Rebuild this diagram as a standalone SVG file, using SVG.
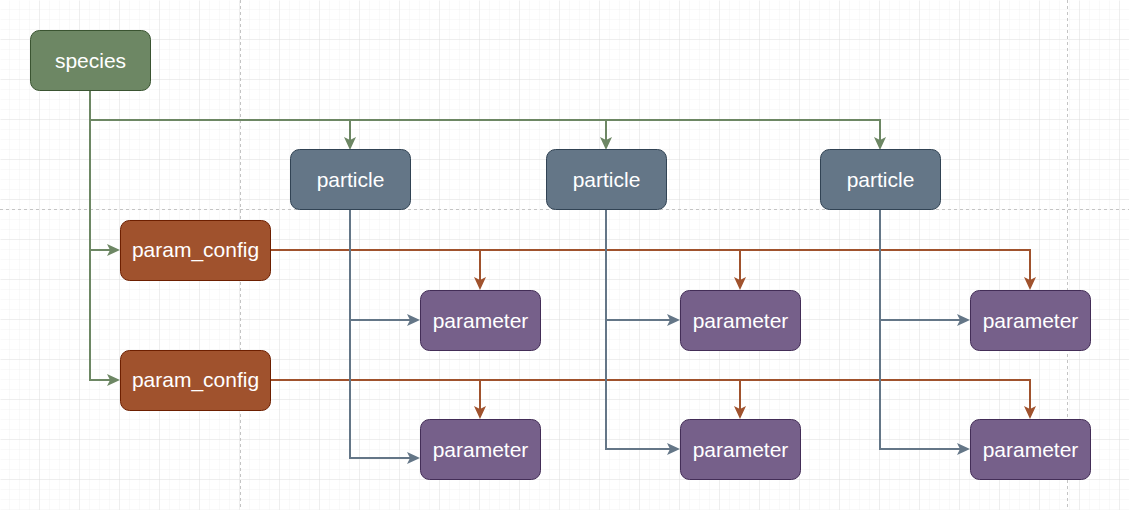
<svg xmlns="http://www.w3.org/2000/svg" width="1129" height="510" viewBox="0 0 1129 510">
<style>
.node rect{stroke-width:1}
.node text{font-family:"Liberation Sans",Arial,sans-serif;font-size:21px;fill:#ffffff;text-anchor:middle}
.sp rect{fill:#6d8764;stroke:#3a5431}
.pa rect{fill:#647687;stroke:#314354}
.pc rect{fill:#a0522d;stroke:#6d1f00}
.pm rect{fill:#76608a;stroke:#432d57}
.edge{fill:none;stroke-width:2}
.g{stroke:#6d8764;marker-end:url(#ag)}
.o{stroke:#a0522d;marker-end:url(#ao)}
.b{stroke:#647687;marker-end:url(#ab)}
.page{stroke:#c4c4c4;stroke-width:1;stroke-dasharray:3 3;fill:none}
</style>
<defs>
<pattern id="minor" width="10" height="10" patternUnits="userSpaceOnUse">
<path d="M10 0V10M0 10H10" fill="none" stroke="#f2f2f2" stroke-width="1"/>
</pattern>
<pattern id="major" width="40" height="40" patternUnits="userSpaceOnUse">
<path d="M40 0V40M0 40H40" fill="none" stroke="#e2e2e2" stroke-width="1"/>
</pattern>
<marker id="ag" markerUnits="userSpaceOnUse" viewBox="-4 -7 15 14" refX="0" refY="0" markerWidth="15" markerHeight="14" orient="auto">
<path d="M-3,-6L10,0L-3,6L0,0Z" fill="#6d8764"/>
</marker>
<marker id="ao" markerUnits="userSpaceOnUse" viewBox="-4 -7 15 14" refX="0" refY="0" markerWidth="15" markerHeight="14" orient="auto">
<path d="M-3,-6L10,0L-3,6L0,0Z" fill="#a0522d"/>
</marker>
<marker id="ab" markerUnits="userSpaceOnUse" viewBox="-4 -7 15 14" refX="0" refY="0" markerWidth="15" markerHeight="14" orient="auto">
<path d="M-3,-6L10,0L-3,6L0,0Z" fill="#647687"/>
</marker>
</defs>
<rect width="1129" height="510" fill="#ffffff"/>
<rect x="0.5" y="0.5" width="1129" height="510" fill="url(#minor)"/>
<rect x="0.5" y="0.5" width="1129" height="510" fill="url(#major)"/>
<path class="page" d="M240.5 0V510M1067.5 0V510M0 209.5H1129"/>

<g id="connectors">
<path class="edge g" d="M90 91V120H350V140"/>
<path class="edge g" d="M90 120H606V140"/>
<path class="edge g" d="M90 120H880V140"/>
<path class="edge g" d="M90 120V250H110"/>
<path class="edge g" d="M90 250V380H110"/>
<path class="edge o" d="M270 250H480V280"/>
<path class="edge o" d="M270 250H740V280"/>
<path class="edge o" d="M270 250H1030V280"/>
<path class="edge o" d="M270 380H480V409"/>
<path class="edge o" d="M270 380H740V409"/>
<path class="edge o" d="M270 380H1030V409"/>
<path class="edge b" d="M350 210V320H410"/>
<path class="edge b" d="M350 210V458H410"/>
<path class="edge b" d="M606 210V320H670"/>
<path class="edge b" d="M606 210V449H670"/>
<path class="edge b" d="M880 210V320H960"/>
<path class="edge b" d="M880 210V449H960"/>
</g>

<g id="species" class="node sp"><rect x="30.5" y="30.5" width="120" height="60" rx="9"/><text x="90.5" y="68">species</text></g>
<g id="particle1" class="node pa"><rect x="290.5" y="149.5" width="120" height="60" rx="9"/><text x="350.5" y="187">particle</text></g>
<g id="particle2" class="node pa"><rect x="546.5" y="149.5" width="120" height="60" rx="9"/><text x="606.5" y="187">particle</text></g>
<g id="particle3" class="node pa"><rect x="820.5" y="149.5" width="120" height="60" rx="9"/><text x="880.5" y="187">particle</text></g>
<g id="param_config1" class="node pc"><rect x="120.5" y="220.5" width="150" height="60" rx="9"/><text x="195.5" y="257">param_config</text></g>
<g id="param_config2" class="node pc"><rect x="120.5" y="350.5" width="150" height="60" rx="9"/><text x="195.5" y="387">param_config</text></g>
<g id="parameter1" class="node pm"><rect x="420.5" y="290.5" width="120" height="60" rx="9"/><text x="480.5" y="328">parameter</text></g>
<g id="parameter2" class="node pm"><rect x="680.5" y="290.5" width="120" height="60" rx="9"/><text x="740.5" y="328">parameter</text></g>
<g id="parameter3" class="node pm"><rect x="970.5" y="290.5" width="120" height="60" rx="9"/><text x="1030.5" y="328">parameter</text></g>
<g id="parameter4" class="node pm"><rect x="420.5" y="419.5" width="120" height="60" rx="9"/><text x="480.5" y="457">parameter</text></g>
<g id="parameter5" class="node pm"><rect x="680.5" y="419.5" width="120" height="60" rx="9"/><text x="740.5" y="457">parameter</text></g>
<g id="parameter6" class="node pm"><rect x="970.5" y="419.5" width="120" height="60" rx="9"/><text x="1030.5" y="457">parameter</text></g>
</svg>
